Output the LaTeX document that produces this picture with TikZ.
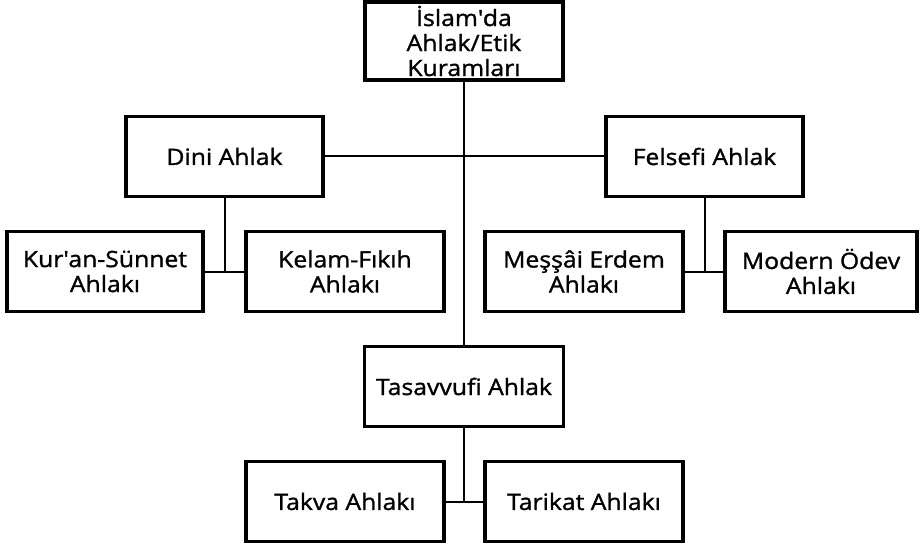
\documentclass[tikz,border=0pt]{standalone}
\usepackage{fontspec}
\setmainfont[FakeStretch=1.1,FakeBold=1.3]{Open Sans}
\begin{document}
\begin{tikzpicture}[x=1pt,y=-1pt,
  box/.style={draw=black, line width=3.5pt, fill=white, align=center,
    inner sep=0pt, minimum height=80pt,
    font=\fontsize{22.5}{25}\selectfont},
  link/.style={draw=black, line width=2pt}]
\useasboundingbox (0,0) rectangle (920,548);

% boxes
\node[box, minimum width=198pt, minimum height=78pt] (root) at (464,41) {İslam\textquotesingle da\\Ahlak/Etik\\Kuramları};
\node[box, minimum width=197pt] (dini) at (224.5,156.5) {Dini Ahlak};
\node[box, minimum width=197pt] (fels) at (704.5,156.5) {Felsefi Ahlak};
\node[box, minimum width=196pt] (kuran) at (105,271.5) {Kur\textquotesingle an-Sünnet\\Ahlakı};
\node[box, minimum width=198pt] (kelam) at (345,271.5) {Kelam-Fıkıh\\Ahlakı};
\node[box, minimum width=198pt] (messai) at (584,271.5) {Meşşâi Erdem\\Ahlakı};
\node[box, minimum width=192pt] (modern) at (821,271.5) {Modern Ödev\\Ahlakı};
\node[box, minimum width=199pt] (tas) at (464,386.5) {Tasavvufi Ahlak};
\node[box, minimum width=198pt] (takva) at (345,501.5) {Takva Ahlakı};
\node[box, minimum width=198pt] (tarikat) at (584,501.5) {Tarikat Ahlakı};

% junction points under each parent
\coordinate (jd) at (dini.south |- kuran.east);
\coordinate (jf) at (fels.south |- messai.east);
\coordinate (jt) at (tas.south |- takva.east);

% connectors
\draw[link] (root.south) -- (tas.north);
\draw[link] (dini.east) -- (fels.west);
\draw[link] (dini.south) -- (jd);
\draw[link] (kuran.east) -- (kelam.west);
\draw[link] (fels.south) -- (jf);
\draw[link] (messai.east) -- (modern.west);
\draw[link] (tas.south) -- (jt);
\draw[link] (takva.east) -- (tarikat.west);
\end{tikzpicture}
\end{document}
